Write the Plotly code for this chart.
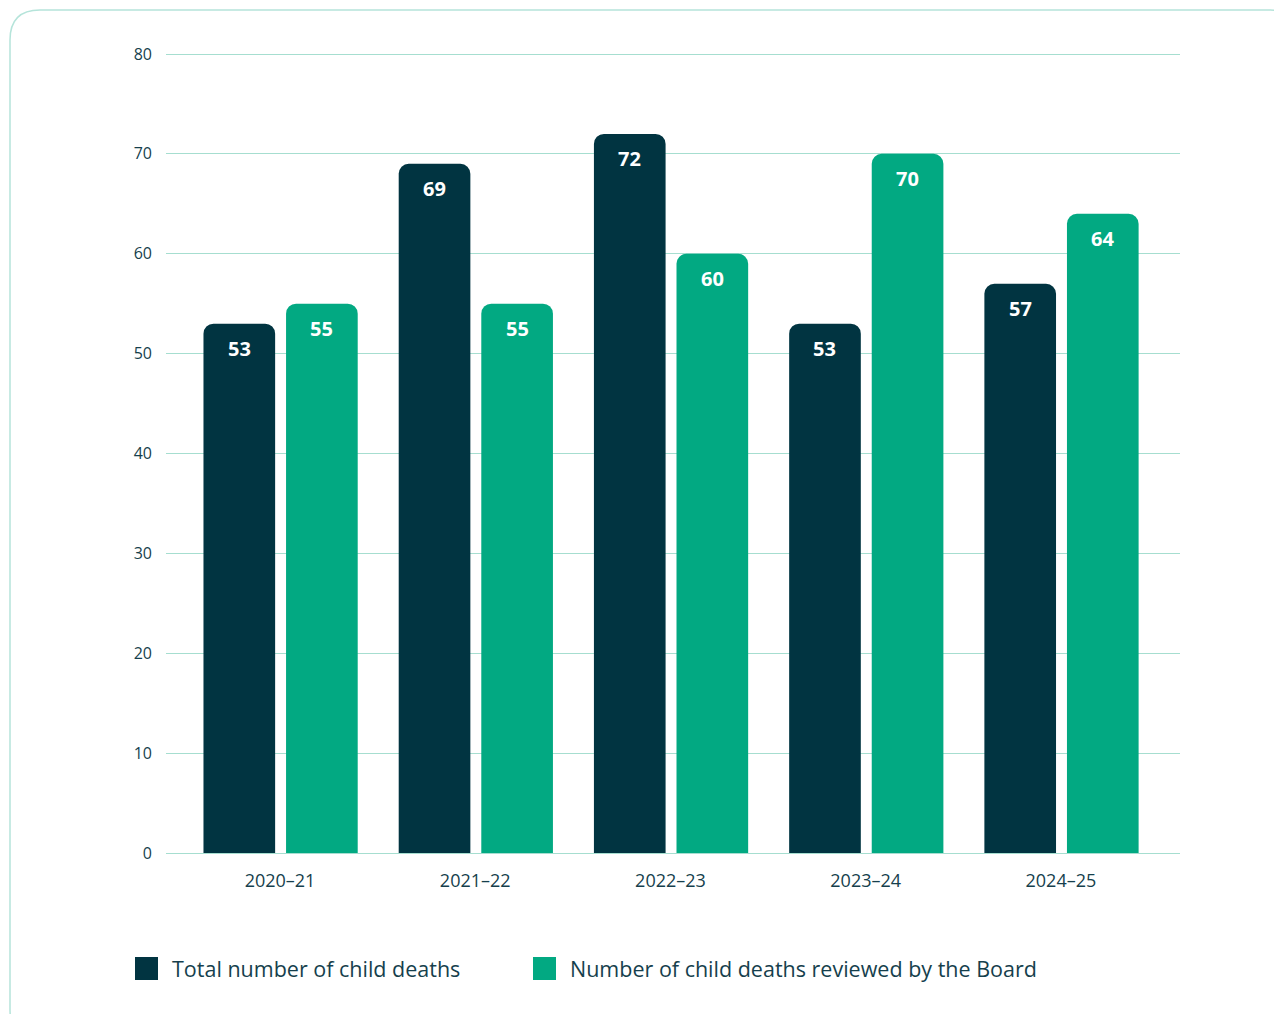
import plotly.graph_objects as go

categories = ["2020–21", "2021–22", "2022–23", "2023–24", "2024–25"]
total_deaths = [53, 69, 72, 53, 57]
reviewed_deaths = [55, 55, 60, 70, 64]
series_names = ["Total number of child deaths", "Number of child deaths reviewed by the Board"]
y_ticks = [0, 10, 20, 30, 40, 50, 60, 70, 80]

DARK = "#013441"
GREEN = "#02a982"
TEXT = "#163f4d"
GRID = "#a6ded0"
BORDER = "#b5e4da"

OFF = 8  # page body margin
W, H = 1282, 1014
Y_TOP = 80.3
PW, PH = 1014, 802
ML, MT = 166 - OFF, 51 - OFF
MR = W - ML - PW
MB = H - MT - PH


def px_x(px):
    return (px - OFF - ML) / PW


def px_y(py):
    return (MT + PH - (py - OFF)) / PH


BAR_W = 0.367
OFFS = [-0.392, 0.031]

fig = go.Figure()
for vals, name, col, off in [(total_deaths, series_names[0], DARK, OFFS[0]),
                             (reviewed_deaths, series_names[1], GREEN, OFFS[1])]:
    fig.add_trace(go.Bar(
        x=categories, y=vals, name=name, marker=dict(color=col, cornerradius=10, line=dict(width=0)),
        width=BAR_W, offset=off, showlegend=False, hoverinfo="x+y",
    ))
    for i, v in enumerate(vals):
        fig.add_annotation(
            x=i + off + BAR_W / 2, y=v, xref="x", yref="y", text=f"<b>{v}</b>",
            showarrow=False, yanchor="top", yshift=-9,
            font=dict(size=20, color="white", family="Open Sans"),
        )

# card border
r = 30
x0, y0, x1, y1 = 10, 10, 1300, 1040
path = (f"M {px_x(x0)} {px_y(y1 - r)} L {px_x(x0)} {px_y(y0 + r)} "
        f"Q {px_x(x0)} {px_y(y0)} {px_x(x0 + r)} {px_y(y0)} "
        f"L {px_x(x1 - r)} {px_y(y0)} Q {px_x(x1)} {px_y(y0)} {px_x(x1)} {px_y(y0 + r)} "
        f"L {px_x(x1)} {px_y(y1 - r)} Q {px_x(x1)} {px_y(y1)} {px_x(x1 - r)} {px_y(y1)} "
        f"L {px_x(x0 + r)} {px_y(y1)} Q {px_x(x0)} {px_y(y1)} {px_x(x0)} {px_y(y1 - r)} Z")
fig.add_shape(type="path", path=path, xref="paper", yref="paper",
              line=dict(color=BORDER, width=1.5), fillcolor="rgba(0,0,0,0)", layer="below")

# legend (drawn manually for large square swatches)
legend_items = [(135, series_names[0], DARK), (533, series_names[1], GREEN)]
for lx, name, col in legend_items:
    fig.add_shape(type="rect", xref="paper", yref="paper",
                  x0=px_x(lx), x1=px_x(lx + 23), y0=px_y(980), y1=px_y(957),
                  fillcolor=col, line=dict(width=0))
    fig.add_annotation(x=px_x(lx + 35), y=px_y(968.5), xref="paper", yref="paper",
                       text=name, showarrow=False, xanchor="left", yanchor="middle",
                       font=dict(size=21.5, color=TEXT, family="Open Sans"))

fig.update_layout(
    width=W, height=H, margin=dict(l=ML, r=MR, t=MT, b=MB),
    paper_bgcolor="white", plot_bgcolor="white",
    barmode="overlay", showlegend=False,
    font=dict(family="Open Sans", color=TEXT),
    xaxis=dict(range=[-0.584, 4.61], showgrid=False, zeroline=False, showline=False,
               ticks="", tickfont=dict(size=18, color=TEXT), ticklabelstandoff=15,
               fixedrange=True),
    yaxis=dict(range=[0, Y_TOP], tickvals=y_ticks, showgrid=True, gridcolor=GRID, gridwidth=1,
               zeroline=True, zerolinecolor=GRID, zerolinewidth=1, showline=False, ticks="",
               tickfont=dict(size=16, color=TEXT), ticklabelstandoff=13, fixedrange=True),
)

fig.write_html("out.html")
